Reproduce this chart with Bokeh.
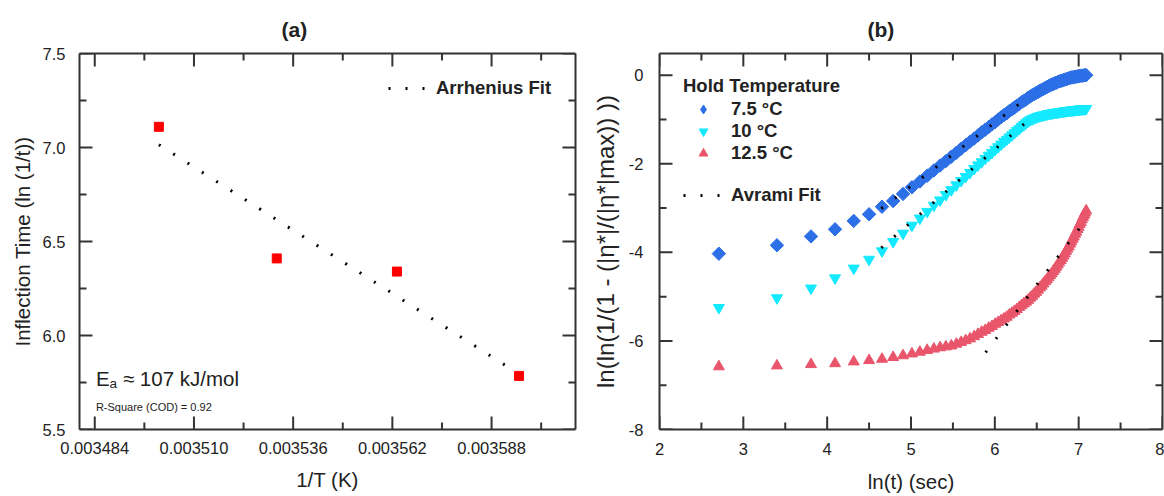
import numpy as np
from bokeh.plotting import figure
from bokeh.layouts import row
from bokeh.models import (FixedTicker, LinearAxis, Legend, LegendItem, Label,
                          PrintfTickFormatter, CustomJSTickFormatter, Range1d)
from bokeh.embed import file_html
from bokeh.resources import INLINE

# ---------------- data: panel (a) ----------------
inv_T = [0.0035008, 0.0035317, 0.0035632, 0.0035952]
inflection_time = [7.11, 6.41, 6.34, 5.785]
arrhenius_fit_x = [0.0035008, 0.0035952]
arrhenius_fit_y = [7.015, 5.795]
a_xrange = (0.00348, 0.00361)
a_yrange = (5.5, 7.5)
a_xticks = [0.003484, 0.003510, 0.003536, 0.003562, 0.003588]
a_xminor = [0.003497, 0.003523, 0.003549, 0.003575, 0.003601]
a_yticks = [5.5, 6.0, 6.5, 7.0, 7.5]
a_yminor = [5.75, 6.25, 6.75, 7.25]

# ---------------- data: panel (b) ----------------
ln_t = [2.708, 3.401, 3.807, 4.094, 4.317, 4.500, 4.654, 4.787, 4.905, 5.011,
        5.106, 5.193, 5.273, 5.347, 5.416, 5.481, 5.541, 5.598, 5.652, 5.704,
        5.753, 5.799, 5.843, 5.886, 5.927, 5.966, 6.004, 6.040, 6.075, 6.109,
        6.142, 6.174, 6.205, 6.234, 6.263, 6.292, 6.319, 6.346, 6.372, 6.397,
        6.422, 6.446, 6.469, 6.492, 6.515, 6.537, 6.558, 6.579, 6.600, 6.620,
        6.640, 6.659, 6.678, 6.697, 6.715, 6.733, 6.751, 6.768, 6.786, 6.802,
        6.819, 6.835, 6.851, 6.867, 6.882, 6.898, 6.913, 6.928, 6.942, 6.957,
        6.971, 6.985, 6.999, 7.012, 7.026, 7.039, 7.052, 7.065, 7.077, 7.090]

y_7_5C = [-4.03, -3.84, -3.64, -3.48, -3.29, -3.14, -2.97, -2.84, -2.68, -2.53,
          -2.40, -2.27, -2.15, -2.04, -1.94, -1.84, -1.75, -1.66, -1.58, -1.50,
          -1.43, -1.36, -1.29, -1.23, -1.17, -1.11, -1.06, -1.00, -0.95, -0.90,
          -0.86, -0.81, -0.77, -0.73, -0.69, -0.65, -0.61, -0.58, -0.55, -0.51,
          -0.48, -0.45, -0.43, -0.40, -0.38, -0.35, -0.33, -0.31, -0.29, -0.27,
          -0.25, -0.23, -0.21, -0.20, -0.18, -0.17, -0.15, -0.14, -0.13, -0.12,
          -0.11, -0.10, -0.09, -0.08, -0.07, -0.06, -0.05, -0.05, -0.04, -0.04,
          -0.03, -0.03, -0.02, -0.02, -0.01, -0.01, -0.01, 0.00, 0.00, 0.00]

y_10C = [-5.25, -5.03, -4.81, -4.58, -4.36, -4.16, -3.97, -3.76, -3.57, -3.39,
         -3.23, -3.08, -2.94, -2.82, -2.70, -2.59, -2.48, -2.38, -2.29, -2.20,
         -2.11, -2.03, -1.96, -1.88, -1.81, -1.75, -1.68, -1.62, -1.56, -1.50,
         -1.45, -1.40, -1.35, -1.30, -1.25, -1.21, -1.16, -1.12, -1.08, -1.04,
         -1.01, -0.99, -0.97, -0.95, -0.935, -0.92, -0.91, -0.90, -0.89, -0.88,
         -0.87, -0.865, -0.86, -0.85, -0.845, -0.84, -0.835, -0.83, -0.825, -0.82,
         -0.815, -0.81, -0.805, -0.80, -0.80, -0.795, -0.79, -0.79, -0.785, -0.78,
         -0.78, -0.775, -0.77, -0.77, -0.765, -0.765, -0.76, -0.76, -0.76, -0.755]

y_12_5C = [-6.58, -6.56, -6.53, -6.51, -6.47, -6.44, -6.41, -6.37, -6.33, -6.29,
           -6.25, -6.21, -6.18, -6.15, -6.13, -6.11, -6.07, -6.03, -5.99, -5.95,
           -5.90, -5.85, -5.80, -5.76, -5.71, -5.67, -5.62, -5.58, -5.54, -5.50,
           -5.46, -5.41, -5.37, -5.33, -5.29, -5.24, -5.20, -5.16, -5.12, -5.08,
           -5.03, -4.99, -4.94, -4.90, -4.85, -4.80, -4.76, -4.71, -4.66, -4.62,
           -4.57, -4.52, -4.48, -4.43, -4.38, -4.33, -4.28, -4.23, -4.18, -4.13,
           -4.08, -4.03, -3.97, -3.92, -3.87, -3.81, -3.76, -3.70, -3.65, -3.59,
           -3.54, -3.48, -3.43, -3.37, -3.32, -3.26, -3.21, -3.16, -3.11, -3.06]

avrami_7_5C_x = [4.646, 6.320]
avrami_7_5C_y = [-3.01, -0.61]
avrami_10C_x = [4.646, 6.374]
avrami_10C_y = [-3.90, -1.06]
avrami_12_5C_x = [5.890, 7.010]
avrami_12_5C_y = [-6.26, -3.46]

b_xrange = (2, 8)
b_yrange = (-8, 0.49)
b_xticks = [2, 3, 4, 5, 6, 7, 8]
b_xminor = [2.5, 3.5, 4.5, 5.5, 6.5, 7.5]
b_yticks = [-8, -6, -4, -2, 0]
b_yminor = [-7, -5, -3, -1]

# ---------------- style ----------------
FONT = "Liberation Sans"
LINE = "#333333"
TXT = "#222222"
BLUE = "#2C6FE6"
CYAN = "#14E9FF"
PINK = "#E9566B"
RED = "#FF0000"
TICK_FS = "16.5px"
LABEL_FS = "20.5px"
MAJOR_LEN = 13
MINOR_LEN = 7


def style_axis(ax, major, minor, hide=False, standoff=16):
    ax.ticker = FixedTicker(ticks=major, minor_ticks=minor)
    ax.axis_line_width = 2
    ax.axis_line_color = LINE
    ax.major_tick_in = 0
    ax.major_tick_out = 0
    ax.minor_tick_in = 0
    ax.minor_tick_out = 0
    ax.major_label_text_font = FONT
    ax.major_label_text_font_size = TICK_FS
    ax.major_label_text_color = TXT
    ax.axis_label_text_font = FONT
    ax.axis_label_text_font_size = LABEL_FS
    ax.axis_label_text_font_style = "normal"
    ax.axis_label_text_color = TXT
    if hide:
        ax.formatter = CustomJSTickFormatter(code="return '';")
        ax.major_label_text_font_size = "0px"
        ax.major_label_standoff = 0
        ax.axis_label = None
    else:
        ax.major_label_standoff = standoff


def inward_ticks(p, xr, yr, xmaj, xmin, ymaj, ymin):
    """Tick marks pointing into the frame on all four sides (dash markers
    centred on the frame edge; the outer half is clipped by the frame)."""
    kw = dict(marker="dash", line_color=LINE, line_width=2, fill_color=None)
    for ticks, ln in ((xmaj, MAJOR_LEN), (xmin, MINOR_LEN)):
        for edge in yr:
            p.scatter(x=ticks, y=[edge] * len(ticks), size=2 * ln,
                      angle=np.pi / 2, **kw)
    for ticks, ln in ((ymaj, MAJOR_LEN), (ymin, MINOR_LEN)):
        for edge in xr:
            p.scatter(x=[edge] * len(ticks), y=ticks, size=2 * ln, **kw)


def base_style(p, title_offset):
    p.xgrid.visible = False
    p.ygrid.visible = False
    p.outline_line_color = None
    p.background_fill_color = "white"
    p.border_fill_color = "white"
    p.title.text_font = FONT
    p.title.text_font_size = "21px"
    p.title.text_font_style = "bold"
    p.title.text_color = TXT
    p.title.align = "left"
    p.title.offset = title_offset
    p.title.standoff = 26


# ---------------- panel (a) ----------------
pa = figure(width=581, height=496, title="(a)", output_backend="svg",
            toolbar_location=None, x_range=Range1d(*a_xrange),
            y_range=Range1d(*a_yrange), min_border_left=79, min_border_right=6,
            min_border_top=53, min_border_bottom=65)
base_style(pa, 202)

style_axis(pa.xaxis[0], a_xticks, a_xminor, standoff=12)
pa.xaxis[0].formatter = PrintfTickFormatter(format="%.6f")
pa.xaxis[0].axis_label = "1/T (K)"
pa.xaxis[0].axis_label_standoff = 11
style_axis(pa.yaxis[0], a_yticks, a_yminor, standoff=14)
pa.yaxis[0].formatter = PrintfTickFormatter(format="%.1f")
pa.yaxis[0].axis_label = "Inflection Time (ln (1/t))"
pa.yaxis[0].axis_label_standoff = 6

ax_top = LinearAxis()
style_axis(ax_top, a_xticks, a_xminor, hide=True)
pa.add_layout(ax_top, "above")
ax_right = LinearAxis()
style_axis(ax_right, a_yticks, a_yminor, hide=True)
pa.add_layout(ax_right, "right")
inward_ticks(pa, a_xrange, a_yrange, a_xticks, a_xminor, a_yticks, a_yminor)

fit_a = pa.line(arrhenius_fit_x, arrhenius_fit_y, line_color="black",
                line_width=3, line_dash="2 15")
pa.scatter(inv_T, inflection_time, marker="square", size=9, color=RED)

leg_a = Legend(items=[LegendItem(label="Arrhenius Fit", renderers=[fit_a])],
               location=(309, 330), padding=0, margin=0, spacing=0,
               glyph_width=40, glyph_height=20, label_height=20, label_standoff=8,
               label_text_font=FONT, label_text_font_size="18.5px",
               label_text_font_style="bold", label_text_color=TXT,
               border_line_color=None, background_fill_alpha=0)
pa.add_layout(leg_a)

# E_a annotation (two pieces for the subscript)
pa.add_layout(Label(x=0.0034843, y=5.772, text="E", text_font=FONT,
                    text_font_size="20.5px", text_color=TXT,
                    text_baseline="alphabetic"))
pa.add_layout(Label(x=0.0034843, y=5.772, x_offset=13.5, y_offset=-5, text="a",
                    text_font=FONT, text_font_size="13.5px", text_color=TXT,
                    text_baseline="alphabetic"))
pa.add_layout(Label(x=0.0034843, y=5.772, x_offset=27, text="≈ 107 kJ/mol",
                    text_font=FONT, text_font_size="20.5px", text_color=TXT,
                    text_baseline="alphabetic"))
pa.add_layout(Label(x=0.0034843, y=5.619, text="R-Square (COD) = 0.92",
                    text_font=FONT, text_font_size="11px", text_color=TXT,
                    text_baseline="alphabetic"))

# ---------------- panel (b) ----------------
pb = figure(width=583, height=496, title="(b)", output_backend="svg",
            toolbar_location=None, x_range=Range1d(*b_xrange),
            y_range=Range1d(*b_yrange), min_border_left=78, min_border_right=2,
            min_border_top=51, min_border_bottom=67)
base_style(pb, 208)

style_axis(pb.xaxis[0], b_xticks, b_xminor, standoff=13)
pb.xaxis[0].axis_label = "ln(t) (sec)"
pb.xaxis[0].axis_label_standoff = 12
style_axis(pb.yaxis[0], b_yticks, b_yminor, standoff=16)
pb.yaxis[0].formatter = CustomJSTickFormatter(code="return tick.toString();")
pb.yaxis[0].axis_label = "ln(ln(1/(1 - (|η*|/(|η*|max)) ))"
pb.yaxis[0].axis_label_text_font_size = "24px"
pb.yaxis[0].axis_label_standoff = 7

bx_top = LinearAxis()
style_axis(bx_top, b_xticks, b_xminor, hide=True)
pb.add_layout(bx_top, "above")
bx_right = LinearAxis()
style_axis(bx_right, b_yticks, b_yminor, hide=True)
pb.add_layout(bx_right, "right")
inward_ticks(pb, b_xrange, b_yrange, b_xticks, b_xminor, b_yticks, b_yminor)

# legend swatch for the diamonds (legend markers are never rotated)
r75_key = pb.scatter(ln_t[:1], y_7_5C[:1], marker="diamond", size=1, color=BLUE)
r125 = pb.scatter(ln_t, y_12_5C, marker="triangle", size=11, color=PINK)
r10 = pb.scatter(ln_t, y_10C, marker="inverted_triangle", size=11, color=CYAN)
r75 = pb.scatter(ln_t, y_7_5C, marker="square", angle=np.pi / 4, size=9.5,
                 color=BLUE)

fit_kw = dict(line_color="black", line_width=3, line_dash="2 15")
f75 = pb.line(avrami_7_5C_x, avrami_7_5C_y, **fit_kw)
pb.line(avrami_10C_x, avrami_10C_y, **fit_kw)
pb.line(avrami_12_5C_x, avrami_12_5C_y, **fit_kw)

leg_b = Legend(items=[LegendItem(label="7.5 °C", renderers=[r75_key]),
                      LegendItem(label="10 °C", renderers=[r10]),
                      LegendItem(label="12.5 °C", renderers=[r125])],
               title="Hold Temperature", location=(24, 265), padding=0,
               margin=0, spacing=0, glyph_width=40, glyph_height=22,
               label_height=20, label_standoff=8, title_standoff=1,
               label_text_font=FONT, label_text_font_size="18.5px",
               label_text_font_style="bold", label_text_color=TXT,
               title_text_font=FONT, title_text_font_size="18.5px",
               title_text_font_style="bold", title_text_color=TXT,
               border_line_color=None, background_fill_alpha=0)
pb.add_layout(leg_b)

leg_b2 = Legend(items=[LegendItem(label="Avrami Fit", renderers=[f75])],
                location=(24, 223), padding=0, margin=0, spacing=0,
                glyph_width=40, glyph_height=20, label_height=20,
                label_standoff=8, label_text_font=FONT,
                label_text_font_size="18.5px", label_text_font_style="bold",
                label_text_color=TXT, border_line_color=None,
                background_fill_alpha=0)
pb.add_layout(leg_b2)

layout = row(pa, pb)
open("out.html", "w").write(file_html(layout, INLINE))
